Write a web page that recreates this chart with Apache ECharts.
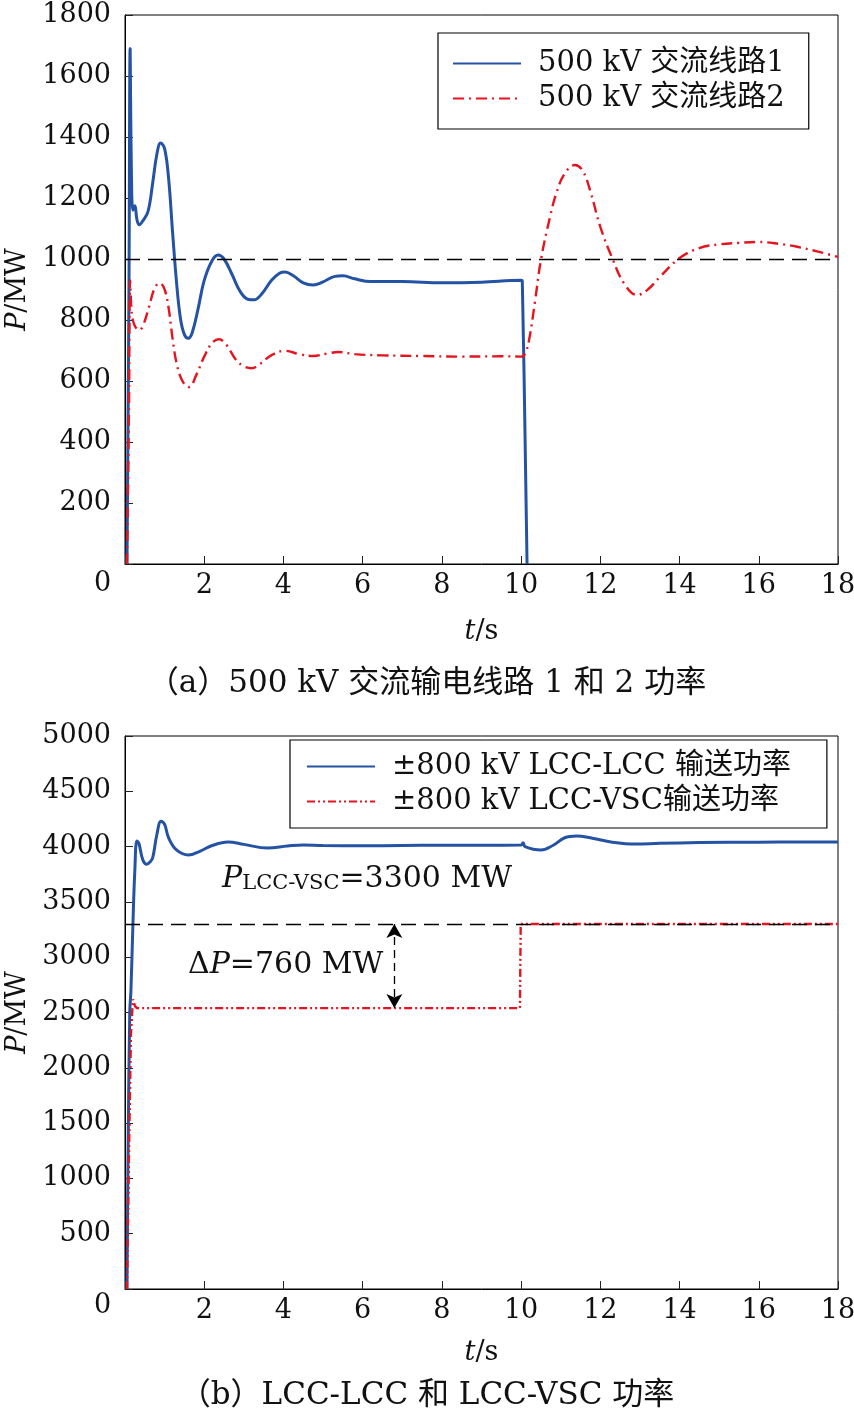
<!DOCTYPE html>
<html>
<head>
<meta charset="utf-8">
<script src="https://cdn.jsdelivr.net/npm/echarts@6/dist/echarts.min.js"></script>
<style>
html,body{margin:0;padding:0;background:#fff;}
#c{width:854px;height:1420px;}
</style>
</head>
<body>
<div id="c"></div>
<script>
// ---------- data ----------
const xTicks = [0, 2, 4, 6, 8, 10, 12, 14, 16, 18];
const yTicksA = [0, 200, 400, 600, 800, 1000, 1200, 1400, 1600, 1800];
const yTicksB = [0, 500, 1000, 1500, 2000, 2500, 3000, 3500, 4000, 4500, 5000];

const nameA1 = '500 kV 交流线路1';
const nameA2 = '500 kV 交流线路2';
const nameB1 = '±800 kV LCC-LCC 输送功率';
const nameB2 = '±800 kV LCC-VSC输送功率';

const captionA = '（a）500 kV 交流输电线路 1 和 2 功率';
const captionB = '（b）LCC-LCC 和 LCC-VSC 功率';

const refA = 1000;          // dashed reference line, plot (a)
const refB = 3300;          // P_LCC-VSC, plot (b)
const lowB = 2540;          // LCC-VSC level before 10 s
const arrowT = 6.8;         // time of the ΔP arrow

// (a) AC line 1 (t, P)
const lineA1 = [
  [0.05,0],[0.1,900],[0.13,1690],[0.16,1300],[0.2,1160],[0.25,1175],[0.3,1130],[0.36,1112],
  [0.45,1125],[0.58,1155],[0.7,1250],[0.8,1340],[0.9,1380],[1.0,1362],[1.1,1265],[1.2,1090],
  [1.3,925],[1.4,805],[1.5,752],[1.6,740],[1.7,760],[1.85,840],[2.0,930],[2.2,995],[2.35,1013],
  [2.5,1000],[2.7,950],[2.9,895],[3.1,868],[3.26,866],[3.45,885],[3.7,930],[3.9,953],[4.04,957],
  [4.25,945],[4.5,922],[4.75,915],[5.0,925],[5.3,943],[5.5,945],[5.8,935],[6.2,926],[7.0,926],
  [8.0,922],[9.0,924],[10.0,930],[10.03,928],[10.15,0]
];
// (a) AC line 2
const lineA2 = [
  [0.05,0],[0.1,500],[0.13,930],[0.17,820],[0.22,790],[0.3,770],[0.36,767],[0.45,780],[0.6,840],
  [0.75,905],[0.88,921],[1.0,900],[1.1,840],[1.2,740],[1.3,660],[1.45,600],[1.62,580],[1.8,620],
  [2.0,680],[2.2,725],[2.37,737],[2.55,720],[2.8,670],[3.0,648],[3.2,642],[3.4,655],[3.7,685],
  [4.04,699],[4.4,688],[4.75,682],[5.1,690],[5.4,695],[5.8,688],[6.5,684],[7.5,682],[8.5,680],
  [9.5,681],[10.0,680],[10.1,690],[10.2,734],[10.35,860],[10.5,997],[10.73,1138],[10.9,1220],
  [11.1,1280],[11.36,1308],[11.55,1290],[11.74,1226],[12.0,1105],[12.3,1003],[12.6,920],
  [12.93,882],[13.2,900],[13.5,941],[14.0,1003],[14.5,1036],[15.0,1048],[15.5,1053],[15.95,1056],
  [16.5,1050],[16.97,1040],[17.5,1024],[18.0,1007]
];
// (b) LCC-LCC
const lineB1 = [
  [0.05,0],[0.08,1300],[0.12,2500],[0.15,2700],[0.2,3300],[0.25,3800],[0.3,4050],[0.35,4030],
  [0.45,3880],[0.55,3840],[0.63,3860],[0.7,3900],[0.8,4100],[0.91,4230],[1.0,4200],[1.1,4080],
  [1.3,3970],[1.6,3924],[1.9,3960],[2.2,4010],[2.6,4041],[3.0,4020],[3.6,3987],[4.1,4005],
  [4.5,4015],[5.0,4010],[6.0,4008],[7.0,4010],[8.0,4012],[9.0,4012],[10.0,4014],[10.05,4035],
  [10.1,4000],[10.5,3969],[10.8,4010],[11.1,4080],[11.4,4096],[11.8,4075],[12.3,4040],
  [12.9,4023],[13.5,4030],[14.5,4036],[16.0,4040],[17.0,4041],[18.0,4041]
];
// (b) LCC-VSC
const lineB2 = [
  [0.05,0],[0.1,1200],[0.15,2300],[0.2,2620],[0.25,2560],[0.3,2540],[9.97,2540],[9.99,3300],[18.0,3300]
];

// ---------- style ----------
const FONT = "'DejaVu Serif','Noto Sans CJK SC',serif";
const FS = 27;
const BLUE = '#2553a3';
const RED = '#e5141f';

function xAxisFor(i, gap) {
  return {
    type: 'value', gridIndex: i,
    min: xTicks[0], max: xTicks[xTicks.length - 1], interval: xTicks[1] - xTicks[0],
    axisLine: { show: true, onZero: false, lineStyle: { color: '#000', width: 1 } },
    axisTick: { show: true, inside: true, length: 8, lineStyle: { color: '#222' } },
    axisLabel: { formatter: v => (v === 0 ? '' : String(v)), margin: 8, fontSize: FS, color: '#111', fontFamily: FONT },
    splitLine: { show: false },
    name: '{i|t}{n|/s}', nameLocation: 'middle', nameGap: gap,
    nameTextStyle: { rich: {
      i: { fontSize: FS, fontStyle: 'italic', fontFamily: FONT, color: '#111' },
      n: { fontSize: FS, fontFamily: FONT, color: '#111' } } }
  };
}
function yAxisFor(i, ticks) {
  return {
    type: 'value', gridIndex: i,
    min: ticks[0], max: ticks[ticks.length - 1], interval: ticks[1] - ticks[0],
    axisLine: { show: true, lineStyle: { color: '#000', width: 1 } },
    axisTick: { show: true, inside: true, length: 8, lineStyle: { color: '#222' } },
    axisLabel: { formatter: v => (v === 0 ? '' : String(v)), margin: 14, fontSize: FS, color: '#111', fontFamily: FONT },
    splitLine: { show: false },
    name: '{i|P}{n|/MW}', nameLocation: 'middle', nameGap: 92, nameRotate: 90,
    nameTextStyle: { rich: {
      i: { fontSize: FS, fontStyle: 'italic', fontFamily: FONT, color: '#111' },
      n: { fontSize: FS, fontFamily: FONT, color: '#111' } } }
  };
}
const refLine = (y) => ({
  silent: true, symbol: 'none', label: { show: false },
  lineStyle: { color: '#000', type: [15, 8], width: 1.3 },
  data: [{ yAxis: y }]
});

const legendBase = {
  orient: 'vertical', itemWidth: 68, itemHeight: 14, itemGap: 4,
  backgroundColor: '#fff', borderColor: '#000', borderWidth: 1.2,
  itemStyle: { color: 'transparent', borderColor: 'transparent', borderWidth: 0 },
  textStyle: { fontSize: 29, fontFamily: FONT, color: '#111', lineHeight: 31, padding: [0, 0, 0, 12] },
  selectedMode: false
};

const gridBase = { show: true, borderColor: '#000', borderWidth: 1, backgroundColor: 'transparent',
  containLabel: false, outerBoundsMode: 'none' };

const option = {
  animation: false,
  backgroundColor: '#fff',
  grid: [
    Object.assign({ left: 125, right: 16, top: 15, height: 549 }, gridBase),
    Object.assign({ left: 125, right: 16, top: 736, height: 553 }, gridBase)
  ],
  xAxis: [xAxisFor(0, 54), xAxisFor(1, 50)],
  yAxis: [yAxisFor(0, yTicksA), yAxisFor(1, yTicksB)],
  legend: [
    Object.assign({}, legendBase, { left: 438, top: 33, padding: [15, 24, 15, 14], data: [nameA1, nameA2] }),
    Object.assign({}, legendBase, { left: 290, top: 740, padding: [11, 36, 11, 16], data: [nameB1, nameB2] })
  ],
  series: [
    { name: nameA1, type: 'line', xAxisIndex: 0, yAxisIndex: 0, data: lineA1, symbol: 'none',
      smooth: 0.4, lineStyle: { color: BLUE, width: 3 }, itemStyle: { color: BLUE },
      markLine: refLine(refA), z: 3 },
    { name: nameA2, type: 'line', xAxisIndex: 0, yAxisIndex: 0, data: lineA2, symbol: 'none',
      smooth: 0.4, lineStyle: { color: RED, width: 2.4, type: [11, 5, 2, 5] }, itemStyle: { color: RED }, z: 4 },
    { name: nameB1, type: 'line', xAxisIndex: 1, yAxisIndex: 1, data: lineB1, symbol: 'none',
      smooth: 0.4, lineStyle: { color: BLUE, width: 3 }, itemStyle: { color: BLUE },
      markLine: refLine(refB), z: 3 },
    { name: nameB2, type: 'line', xAxisIndex: 1, yAxisIndex: 1, data: lineB2, symbol: 'none',
      lineStyle: { color: RED, width: 2.4, type: [8, 3, 2, 3, 2, 3] }, itemStyle: { color: RED }, z: 4,
      markLine: {
        silent: true, symbol: ['arrow', 'arrow'], symbolSize: [12, 14], label: { show: false },
        lineStyle: { color: '#000', type: [8, 5], width: 1.3 },
        data: [[{ coord: [arrowT, refB] }, { coord: [arrowT, lowB] }]]
      } }
  ],
  graphic: [
    { type: 'text', left: 94, top: 570, style: { text: '0', fontSize: FS, fontFamily: FONT, fill: '#111' } },
    { type: 'text', left: 94, top: 1292, style: { text: '0', fontSize: FS, fontFamily: FONT, fill: '#111' } },
    { type: 'text', left: 'center', top: 668, style: { text: captionA, fontSize: 31, fontFamily: FONT, fill: '#111' } },
    { type: 'text', left: 'center', top: 1380, style: { text: captionB, fontSize: 31, fontFamily: FONT, fill: '#111' } },
    { type: 'text', left: 222, top: 864, style: {
      text: '{p|P}{s|LCC-VSC}{n|=3300 MW}',
      rich: {
        p: { fontSize: 30, fontStyle: 'italic', fontFamily: FONT, fill: '#111', verticalAlign: 'bottom' },
        s: { fontSize: 21, fontFamily: FONT, fill: '#111', verticalAlign: 'bottom', padding: [10, 0, 0, 0] },
        n: { fontSize: 30, fontFamily: FONT, fill: '#111', verticalAlign: 'bottom' }
      } } },
    { type: 'text', left: 188, top: 950, style: {
      text: '{n|Δ}{p|P}{n|=760 MW}',
      rich: {
        p: { fontSize: 30, fontStyle: 'italic', fontFamily: FONT, fill: '#111' },
        n: { fontSize: 30, fontFamily: FONT, fill: '#111' }
      } } }
  ]
};

const chart = echarts.init(document.getElementById('c'), null, { renderer: 'canvas' });
chart.setOption(option);
</script>
</body>
</html>
